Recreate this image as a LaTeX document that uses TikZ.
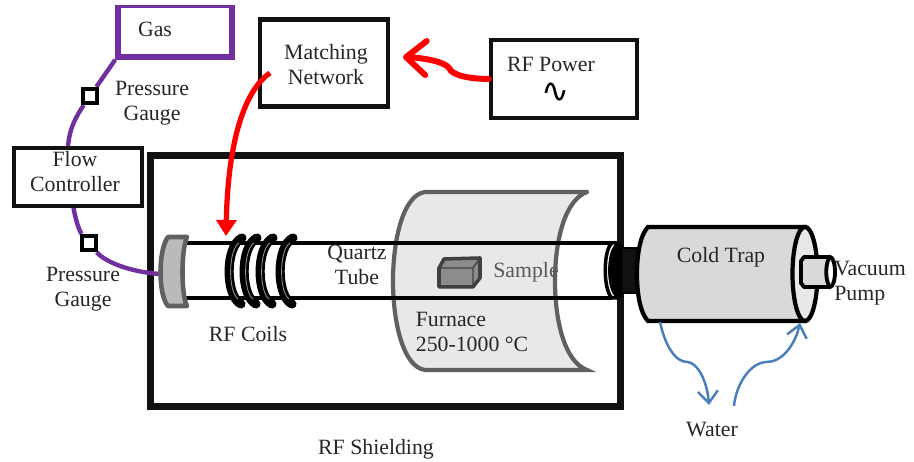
\documentclass[tikz,border=0pt]{standalone}
\usepackage{fontspec}
\setmainfont{Liberation Serif}
\newfontfamily\symfont{DejaVu Sans}
\usetikzlibrary{arrows.meta,shapes.geometric}
\definecolor{gaspurple}{HTML}{7030A0}
\definecolor{waterblue}{HTML}{4A7EBB}
\definecolor{edgegray}{HTML}{606060}
\definecolor{inkblack}{HTML}{111111}
\tikzset{
    boxnode/.style={draw=inkblack, line width=1.2pt, fill=white, minimum width=#1, inner sep=0pt},
    txtnode/.style={font=\fontsize{6.2}{7.1}\selectfont, inner sep=0pt, text=black!85, align=center},
    gasline/.style={draw=gaspurple, line width=1.25pt},
    gaugenode/.style={draw=black, line width=1.25pt, fill=white, minimum size=0.14cm, inner sep=0pt},
    waterline/.style={draw=waterblue, line width=0.7pt, -{Straight Barb[length=0.12cm,width=0.2cm]}},
    coilturn/.style={draw=black, line width=2.6pt, line cap=round}
}
\begin{document}
\begin{tikzpicture}[x=0.01cm, y=-0.01cm]
    \useasboundingbox (0,0) rectangle (914,462);

    % Shielding box
    \node[draw=inkblack, line width=2pt, minimum width=4.7cm, minimum height=2.5cm, inner sep=0pt] (shield) at (385.5,281) {};

    % Gas line and gauges
    \begin{scope}
        \clip (0,6) rectangle (914,462);
        \node[draw=gaspurple, line width=1.6pt, minimum width=1.14cm, minimum height=0.52cm, inner sep=0pt] (gas) at (175,31) {};
    \end{scope}
    \node[gaugenode] (gaugeup) at (90,96) {};
    \node[gaugenode] (gaugedown) at (89,243) {};

    % Furnace
    \draw[draw=edgegray, fill=black!9, line width=1.2pt, line cap=round] (587,192) -- (425,192)
        .. controls (403,195) and (393,240) .. (393,281)
        .. controls (393,322) and (403,367) .. (425,370) -- (587,370)
        .. controls (565,362) and (555,322) .. (555,281)
        .. controls (555,240) and (565,200) .. (587,192);

    % Gas connectors
    \coordinate (capin) at (160,274);
    \draw[gasline] (gas.south west) -- (gaugeup);
    \draw[gasline] (gaugeup) .. controls (77,115) and (68,130) .. (68,150);
    \draw[gasline] (73,204) .. controls (75,220) and (80,232) .. (gaugedown);
    \draw[gasline] (gaugedown) .. controls (105,262) and (130,272) .. (capin);
    \node[gaugenode] at (gaugeup) {};
    \node[gaugenode] at (gaugedown) {};
    \node[boxnode=1.28cm, minimum height=0.58cm] (flow) at (78,177) {};

    % Quartz tube
    \draw[draw=black, line width=1.2pt] (185,243) -- (612,243);
    \draw[draw=black, line width=1.2pt] (185,298) -- (612,298);

    % Cap at the tube end
    \draw[draw=edgegray, fill=black!27, line width=1.3pt, line join=round] (187,237) -- (168,237)
        .. controls (158,250) and (158,295) .. (168,306) -- (187,306)
        .. controls (181,295) and (181,250) .. (187,237) -- cycle;

    % RF coils
    \foreach \xc in {231,246,262,282} {
        \draw[coilturn] (\xc+11,238) .. controls (\xc-6,246) and (\xc-6,296) .. (\xc+10,304);
        \draw[draw=black!45, line width=0.25pt] (\xc+8,243) .. controls (\xc-3,250) and (\xc-3,292) .. (\xc+7,299);
    }

    % Sample
    \draw[draw=black!75, fill=black!45, line width=1pt, line join=round] (439,268) -- (444,259) -- (480,258) -- (480,278) -- (473,287) -- (439,287) -- cycle;
    \draw[draw=black!75, line width=0.4pt] (439,268) -- (473,268) -- (480,258) (473,268) -- (473,287);

    % Cold trap
    \draw[draw=black, fill=inkblack] (615,248) rectangle (638,293);
    \draw[draw=black, fill=white, line width=1pt] (612,243) .. controls (603,250) and (603,290) .. (612,298) -- (617,298) -- (617,243) -- cycle;
    \draw[draw=black, fill=black, line width=0.2pt] (616,244) .. controls (606,252) and (606,289) .. (616,297) -- (622,297) -- (622,244) -- cycle;
    \draw[draw=black, fill=black!15, line width=1.2pt] (805,227) -- (648,227)
        .. controls (640,235) and (637,255) .. (637,274)
        .. controls (637,293) and (640,313) .. (648,321) -- (805,321) -- cycle;
    \node[draw=black, fill=black!9, line width=1.2pt, ellipse, minimum width=0.25cm, minimum height=0.94cm, inner sep=0pt] (trapend) at (805,274) {};
    \node[draw=black, fill=white, line width=1.1pt, ellipse, minimum width=0.1cm, minimum height=0.3cm, inner sep=0pt] (stubend) at (830,272) {};
    \draw[draw=black, fill=black!15, line width=1.1pt, line join=round] (830,257)
        .. controls (825,262) and (825,282) .. (830,287) -- (804,287) -- (801,283) -- (801,261) -- (804,257) -- cycle;

    % Boxes of the RF side
    \node[boxnode=1.28cm, minimum height=0.87cm] (match) at (324,63) {};
    \node[boxnode=1.46cm, minimum height=0.78cm] (power) at (564,79) {};

    % RF connectors
    \coordinate (coilin) at (226,236);
    \coordinate (matchout) at (270,73);
    \coordinate (matchin) at (403,57);
    \draw[draw=red, line width=1.7pt, line cap=round, -{Straight Barb[length=0.2cm,width=0.34cm,round]}] (power.west) .. controls (472,79) and (452,76) .. (449,68) .. controls (445,62) and (425,58) .. (matchin);
    \draw[draw=red, line width=1.5pt, -{Triangle[length=0.16cm,width=0.2cm]}] (matchout) .. controls (245,90) and (228,140) .. (coilin);

    % Water connectors
    \coordinate (waterin) at (660,322);
    \coordinate (waterdown) at (709,405);
    \coordinate (waterup) at (734,406);
    \coordinate (trapin) at (800,323);
    \draw[waterline] (waterin) .. controls (665,345) and (675,362) .. (687,362) .. controls (697,362) and (707,380) .. (waterdown);
    \draw[waterline] (waterup) .. controls (736,385) and (750,362) .. (767,362) .. controls (782,362) and (795,345) .. (trapin);

    % Labels
    \node[txtnode] (gaslabel) at (155,29) {Gas};
    \node[txtnode] (gaugeuplabel) at (152,103) {Pressure\\Gauge};
    \node[txtnode] (gaugedownlabel) at (83,289) {Pressure\\Gauge};
    \node[txtnode] (flowlabel) at (75,172) {Flow\\Controller};
    \node[txtnode] (matchlabel) at (326,65) {Matching\\Network};
    \node[txtnode] (powerlabel) at (551,64) {RF Power};
    \node[font=\fontsize{9.5}{10}\symfont, inner sep=0pt] (wavelabel) at (555,93) {∿};
    \node[txtnode] (coillabel) at (248,334) {RF Coils};
    \node[txtnode] (tubelabel) at (357,265) {Quartz\\Tube};
    \node[txtnode, text=black!65] (samplelabel) at (526,272) {Sample};
    \node[txtnode, align=left] (furnacelabel) at (472,332) {Furnace\\250-1000 °C};
    \node[txtnode] (traplabel) at (721,257) {Cold Trap};
    \node[txtnode, align=left] (pumplabel) at (870,283) {Vacuum\\Pump};
    \node[txtnode] (waterlabel) at (712,430) {Water};
    \node[txtnode] (shieldlabel) at (376,449) {RF Shielding};
\end{tikzpicture}
\end{document}
